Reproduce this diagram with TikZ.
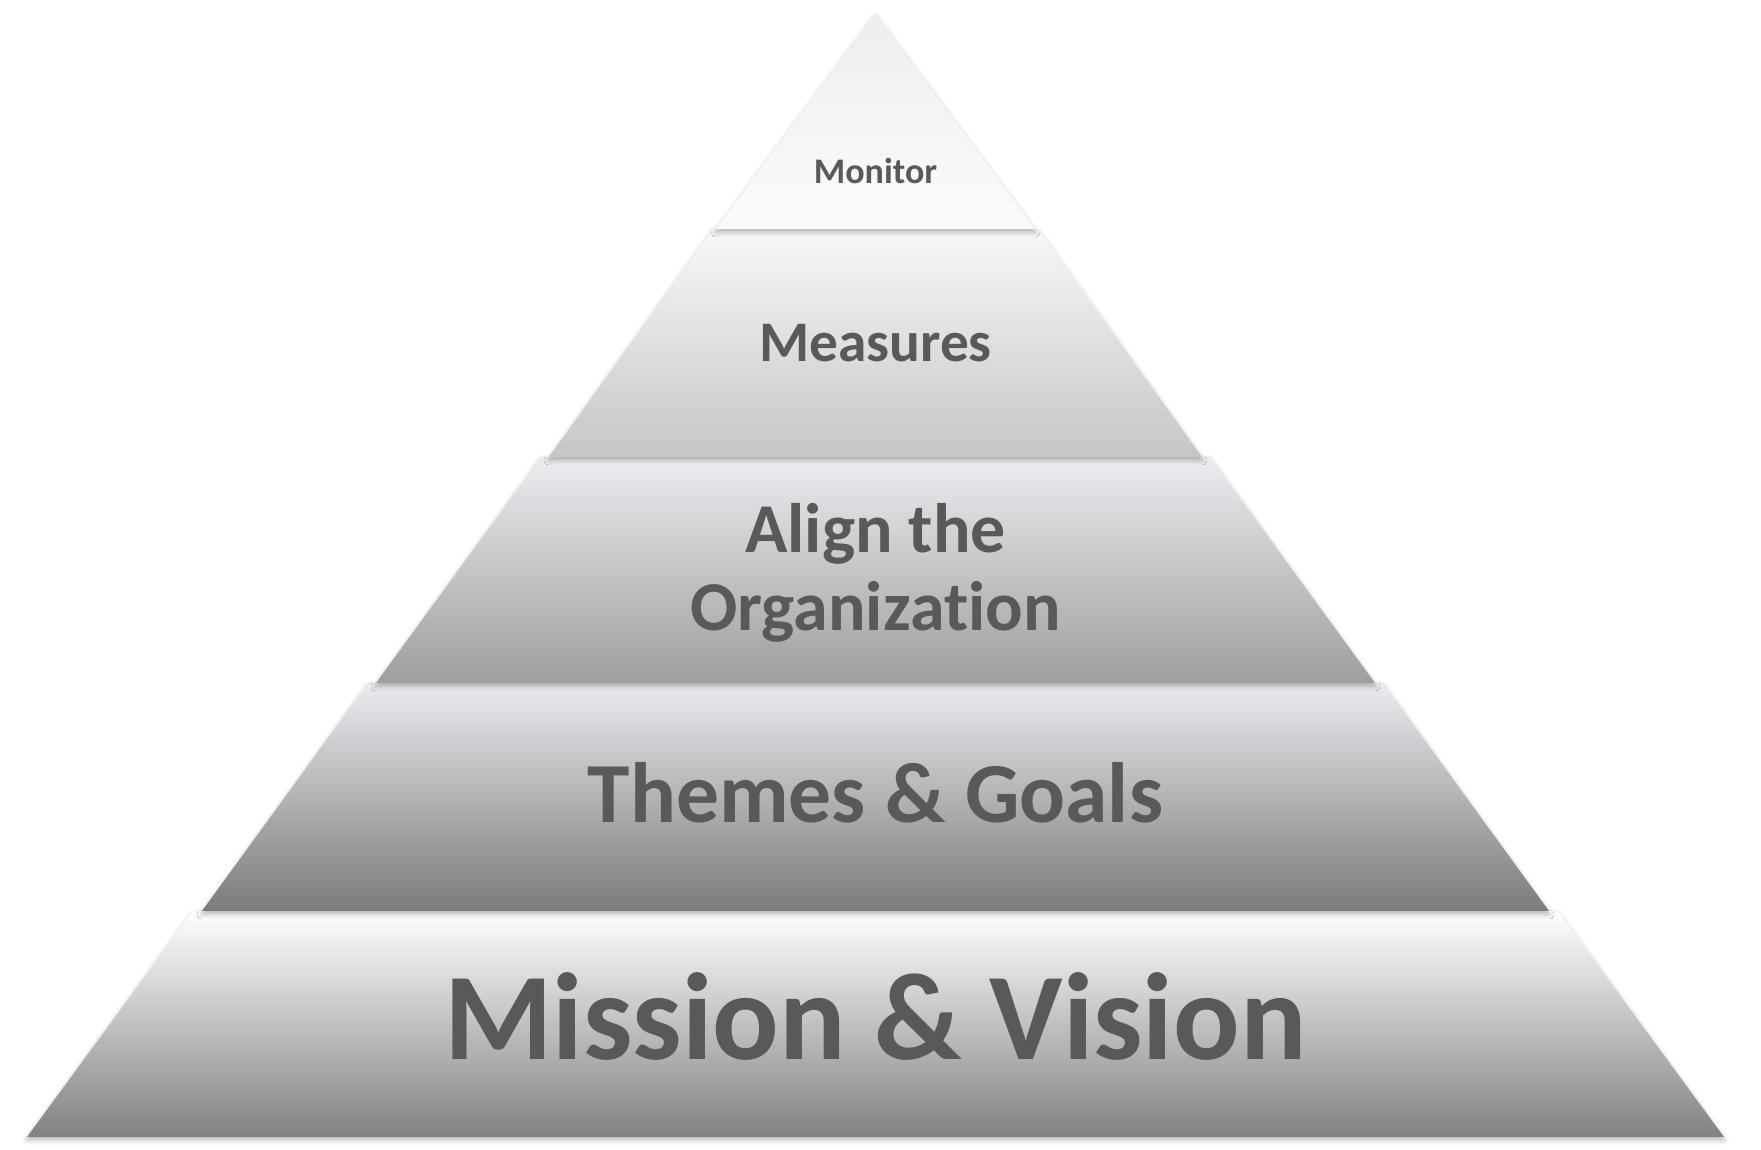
\documentclass[tikz,border=0pt]{standalone}
\usepackage{fontspec}
\setmainfont{Carlito}[Ligatures=NoCommon]
\usepackage{tikz}
\usetikzlibrary{positioning,shadows.blur}

\definecolor{txt}{HTML}{595959}
\definecolor{topa}{HTML}{EEEEF0}
\definecolor{bota}{HTML}{FBFBFC}
\definecolor{topb}{HTML}{F8F8FA}
\definecolor{botb}{HTML}{C6C6C6}
\definecolor{topc}{HTML}{ECECF1}
\definecolor{botc}{HTML}{9E9E9E}
\definecolor{topd}{HTML}{EBEBF0}
\definecolor{botd}{HTML}{7B7B7B}
\definecolor{tope}{HTML}{FFFFFF}
\definecolor{bote}{HTML}{828282}

\tikzset{
  band/.style={blur shadow={shadow xshift=0pt, shadow yshift=-1.5pt, shadow blur radius=2.5pt, shadow opacity=30}},
  lbl/.style={text=txt, anchor=base, inner sep=0pt, font=\bfseries}
}

\begin{document}
\begin{tikzpicture}[x=0.5pt, y=0.5pt]
  \useasboundingbox (0,0) rectangle (1761,1150);
  % bands, bottom to top
  \shade [band, top color=tope, bottom color=bote] (193,239) -- (1558,239) -- (1724,13) -- (27,13) -- cycle;
  \shade [band, top color=topd, bottom color=botd] (368,467) -- (1383,467) -- (1549,239) -- (202,239) -- cycle;
  \shade [band, top color=topc, bottom color=botc] (541,693) -- (1210,693) -- (1375,467) -- (376,467) -- cycle;
  \shade [band, top color=topb, bottom color=botb] (713,921) -- (1038,921) -- (1202,693) -- (549,693) -- cycle;
  \shade [band, top color=topa, bottom color=bota] (875.5,1136) -- (1035,921) -- (716,921) -- cycle;
  % labels
  \node [lbl, font=\bfseries\fontsize{18}{22}\selectfont] (monitor) at (875.5,966.5) {Monitor};
  \node [lbl, font=\bfseries\fontsize{28.7}{35}\selectfont] (measures) at (875.5,788) {Measures};
  \node [lbl, font=\bfseries\fontsize{35}{39}\selectfont] (align) at (875.5,597.5) {Align the};
  \node [lbl, font=\bfseries\fontsize{35}{39}\selectfont] (organization) at (875.5,519.5) {Organization};
  \node [lbl, font=\bfseries\fontsize{42.8}{52}\selectfont] (themes) at (875.5,327) {Themes \& Goals};
  \node [lbl, font=\bfseries\fontsize{62}{74}\selectfont] (mission) at (875.5,90) {Mission \& Vision};
\end{tikzpicture}
\end{document}
